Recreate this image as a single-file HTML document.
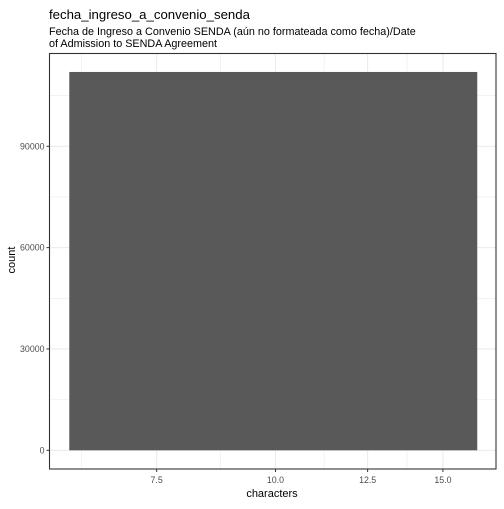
<!DOCTYPE html>
<html><head><meta charset="utf-8"><style>
body{margin:0;background:#fff;font-family:"Liberation Sans",Arial,sans-serif}
svg text{font-family:"Liberation Sans",Arial,sans-serif}
</style></head><body>
<svg id="c" width="504" height="504" xmlns="http://www.w3.org/2000/svg">
<text x="49" y="19" font-size="13.2" fill="#000">fecha_ingreso_a_convenio_senda</text>
<text x="49" y="35" font-size="10.8" fill="#000">Fecha de Ingreso a Convenio SENDA (aún no formateada como fecha)/Date</text>
<text x="49" y="47" font-size="10.8" fill="#000">of Admission to SENDA Agreement</text>
<g id="grid"></g><g id="bars"></g><g id="axes"></g>
<text x="272" y="497" font-size="11" text-anchor="middle">characters</text>
<text transform="translate(15,260) rotate(-90)" font-size="11" text-anchor="middle">count</text>
</svg>
<script>
const binStarts=[6.07];
const binEnds=[16.3];
const counts=[112000];
const xTicks=[7.5,10,12.5,15];
const xTickLabels=["7.5","10.0","12.5","15.0"];
const xMinor=[6.25,8.75,11.25,13.75];
const yTicks=[0,30000,60000,90000];
const yTickLabels=["0","30000","60000","90000"];
const yMinor=[15000,45000,75000,105000];
const L=49.5,R=496,T=53.5,B=469;
const xs=v=>-675.5+413*Math.log(v);
const ys=v=>450.3-v*0.003378;
const ns="http://www.w3.org/2000/svg";
function mk(p,t,a){const e=document.createElementNS(ns,t);for(const k in a)e.setAttribute(k,a[k]);p.appendChild(e);return e;}
const g=document.getElementById('grid'),b=document.getElementById('bars'),ax=document.getElementById('axes');
xMinor.forEach(v=>{const e=mk(g,'line',{x1:xs(v),x2:xs(v),y1:T,y2:B,stroke:'#ebebeb','stroke-width':0.6});

});
yMinor.forEach(v=>{const e=mk(g,'line',{x1:L,x2:R,y1:ys(v),y2:ys(v),stroke:'#ebebeb','stroke-width':0.6});

});
xTicks.forEach(v=>{const e=mk(g,'line',{x1:xs(v),x2:xs(v),y1:T,y2:B,stroke:'#ebebeb','stroke-width':1.1});

});
yTicks.forEach(v=>{const e=mk(g,'line',{x1:L,x2:R,y1:ys(v),y2:ys(v),stroke:'#ebebeb','stroke-width':1.1});

});
counts.forEach((c,i)=>{const x0=xs(binStarts[i]),x1=xs(binEnds[i]);
const e=mk(b,'rect',{x:x0,y:ys(c),width:x1-x0,height:ys(0)-ys(c),fill:'#595959'});

});
const f=mk(ax,'rect',{x:L,y:T,width:R-L,height:B-T,fill:'none',stroke:'#333','stroke-width':1.1});


xTicks.forEach((v,i)=>{mk(ax,'line',{x1:xs(v),x2:xs(v),y1:B,y2:B+3,stroke:'#333'});
const t=mk(ax,'text',{x:xs(v),y:B+14,'font-size':8.8,fill:'#4d4d4d','text-anchor':'middle'});t.textContent=xTickLabels[i];

});
yTicks.forEach((v,i)=>{mk(ax,'line',{x1:L-3,x2:L,y1:ys(v),y2:ys(v),stroke:'#333'});
const t=mk(ax,'text',{x:L-5,y:ys(v)+3,'font-size':8.8,fill:'#4d4d4d','text-anchor':'end'});t.textContent=yTickLabels[i];

});
</script>
</body></html>
